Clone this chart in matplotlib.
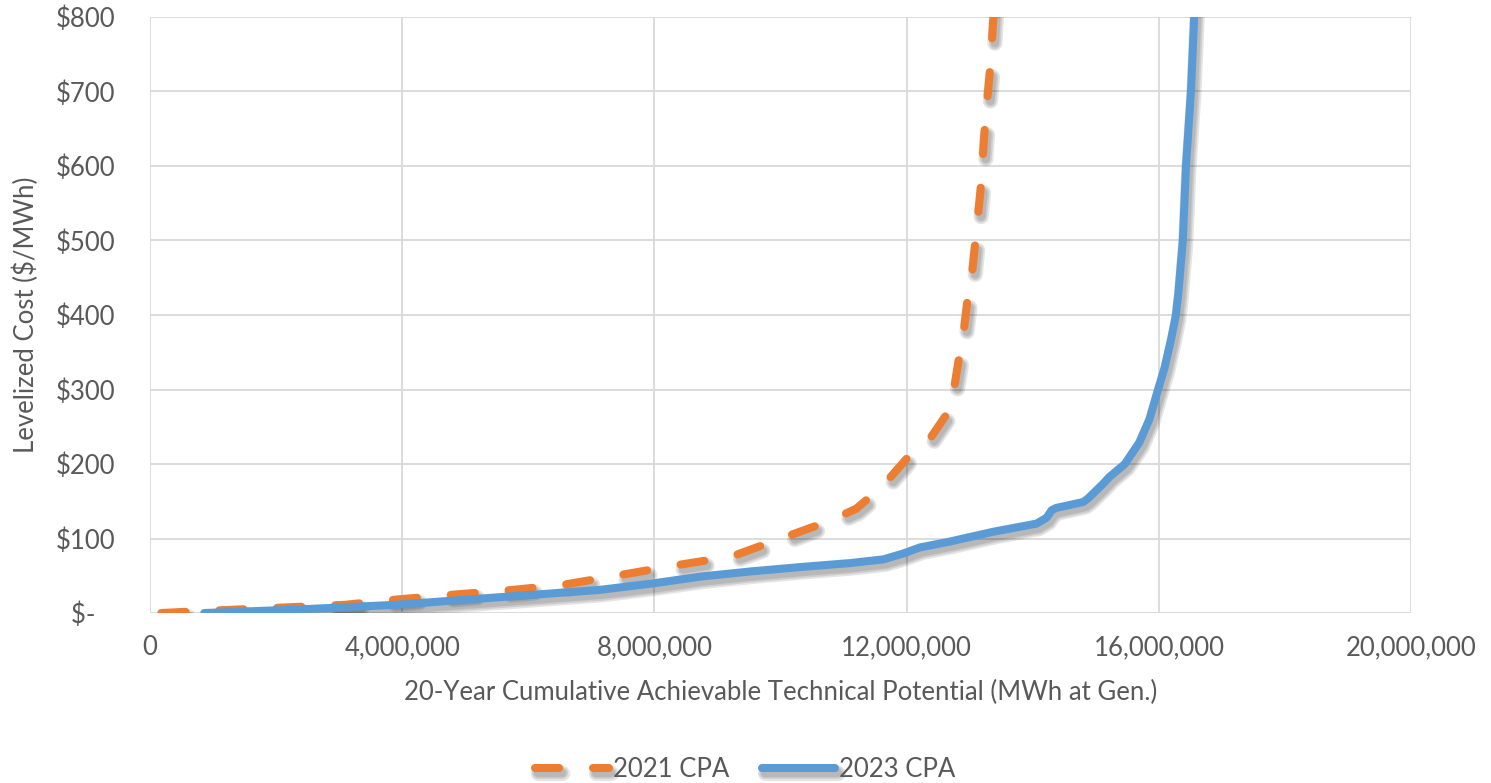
import numpy as np
import matplotlib.pyplot as plt
import matplotlib.patheffects as pe
from matplotlib.ticker import FuncFormatter

# 2021 CPA supply curve (cumulative MWh, $/MWh)
mwh_2021 = [0.18e6, 0.66e6, 1.47e6, 2.28e6, 3.09e6, 3.9e6, 4.86e6, 5.75e6, 6.56e6,
            7.46e6, 8.34e6, 9.23e6, 10.04e6, 10.76e6, 11.2e6, 11.49e6, 11.75e6,
            12.05e6, 12.37e6, 12.62e6, 12.75e6, 12.83e6, 12.9e6, 12.96e6,
            13.03e6, 13.08e6, 13.12e6, 13.17e6, 13.2e6, 13.23e6, 13.26e6,
            13.31e6, 13.34e6, 13.37e6, 13.4e6]
cost_2021 = [0, 2, 5, 8, 11, 18, 25, 31, 38,
             51, 64, 76, 101, 123, 140, 161, 183,
             212, 234, 265, 300, 342, 374, 417,
             449, 491, 524, 566, 601, 641, 673,
             718, 750, 792, 830]

# 2023 CPA supply curve
mwh_2023 = [0.86e6, 2.28e6, 3.9e6, 4.7e6, 5.51e6, 7.13e6, 8.0e6, 8.74e6, 9.55e6,
            10.36e6, 11.1e6, 11.63e6, 11.95e6, 12.21e6, 12.69e6, 13.37e6,
            14.06e6, 14.22e6, 14.3e6, 14.37e6, 14.8e6, 14.88e6, 15.11e6,
            15.22e6, 15.46e6, 15.69e6, 15.85e6, 15.98e6, 16.09e6, 16.2e6, 16.27e6,
            16.31e6, 16.34e6, 16.38e6, 16.43e6, 16.51e6, 16.56e6, 16.58e6]
cost_2023 = [0, 4.5, 11, 16, 21, 31, 40, 49, 56,
             62, 67, 72, 80, 88, 96, 109,
             120, 128, 138, 141, 149, 154, 173,
             183, 200, 229, 260, 298, 329, 370, 400,
             430, 460, 500, 600, 702, 800, 840]

x_ticks = [0, 4e6, 8e6, 12e6, 16e6, 20e6]
y_ticks = [0, 100, 200, 300, 400, 500, 600, 700, 800]

orange = '#ED7D31'
blue = '#5B9BD5'
grey_txt = '#595959'
grid_c = '#D9D9D9'
fs = 18.5

plt.rcParams['font.family'] = ['Lato', 'DejaVu Sans']

fig = plt.figure(figsize=(14.91, 7.83), dpi=100)
ax = fig.add_axes([0.1006, 0.2171, 0.8458, 0.7612])

# soft drop shadow, a bit like the spreadsheet one
shadow = [pe.SimpleLineShadow(offset=(2, -3.5), shadow_color='k', alpha=0.10, linewidth=w)
          for w in (11, 8.5, 6)] + [pe.Normal()]

ax.plot(mwh_2021, cost_2021, color=orange, lw=5.8, dashes=(3.0, 4.2),
        dash_capstyle='round', solid_capstyle='round', label='2021 CPA',
        path_effects=shadow, zorder=3)
ax.plot(mwh_2023, cost_2023, color=blue, lw=5.8, solid_capstyle='round',
        solid_joinstyle='round', label='2023 CPA', path_effects=shadow, zorder=4)

ax.set_xlim(0, 20e6)
ax.set_ylim(0, 800)
ax.set_xticks(x_ticks)
ax.set_yticks(y_ticks)
ax.xaxis.set_major_formatter(FuncFormatter(lambda v, p: f'{int(v):,}'))
ax.yaxis.set_major_formatter(FuncFormatter(lambda v, p: '$-   ' if v == 0 else f'${int(v)}'))
ax.grid(True, color=grid_c, lw=1.3)
ax.set_axisbelow(True)
for s in ax.spines.values():
    s.set_visible(False)
ax.tick_params(length=0, labelsize=fs, colors=grey_txt)
ax.tick_params(axis='y', pad=25)
ax.tick_params(axis='x', pad=16)

ax.set_xlabel('20-Year Cumulative Achievable Technical Potential (MWh at Gen.)',
              fontsize=fs, color=grey_txt, labelpad=14)
ax.set_ylabel('Levelized Cost ($/MWh)', fontsize=fs, color=grey_txt, labelpad=12)

leg = fig.legend(loc='center', bbox_to_anchor=(0.5, 0.017), ncol=2, frameon=False,
                 fontsize=fs, handlelength=2.85, columnspacing=1.3, handletextpad=0.15)
for t in leg.get_texts():
    t.set_color(grey_txt)

fig.savefig('out.png', dpi=100)
